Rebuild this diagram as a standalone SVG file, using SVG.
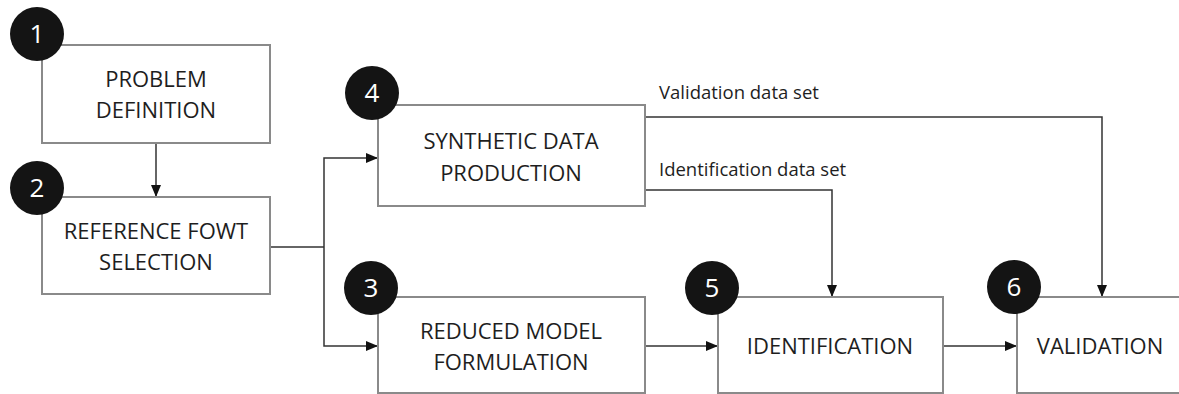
<svg xmlns="http://www.w3.org/2000/svg" width="1179" height="394" viewBox="0 0 1179 394">
<style>
.box{fill:#fff;stroke:#8a8a8a;stroke-width:2}
.badge{fill:#141414}
.num{font-family:"Open Sans","Liberation Sans",sans-serif;font-size:26px;fill:#fff;text-anchor:middle}
.lbl{font-family:"Open Sans","Liberation Sans",sans-serif;font-size:22px;fill:#1e1e1e;text-anchor:middle}
.edge{font-family:"Open Sans","Liberation Sans",sans-serif;font-size:18.5px;fill:#1e1e1e}
.con{fill:none;stroke:#333;stroke-width:1.5}
</style>
<defs>
<marker id="arr" viewBox="0 0 12 10" refX="12" refY="5" markerWidth="12" markerHeight="10" markerUnits="userSpaceOnUse" orient="auto">
<path d="M0,0 L12,5 L0,10 Z" fill="#111"/>
</marker>
</defs>
<rect width="1179" height="394" fill="#fff"/>
<g id="connectors">
<path class="con" d="M156,143 V197" marker-end="url(#arr)"/>
<path class="con" d="M270,247 H324"/>
<path class="con" d="M324,247 V158 H378" marker-end="url(#arr)"/>
<path class="con" d="M324,247 V346 H378" marker-end="url(#arr)"/>
<path class="con" d="M645,117 H1102 V297" marker-end="url(#arr)"/>
<path class="con" d="M645,190 H832 V297" marker-end="url(#arr)"/>
<path class="con" d="M645,346 H718" marker-end="url(#arr)"/>
<path class="con" d="M943,346 H1017" marker-end="url(#arr)"/>
<text class="edge" x="659" y="99">Validation data set</text>
<text class="edge" x="659" y="176">Identification data set</text>
</g>
<g id="node1">
<rect class="box" x="42" y="45" width="228" height="98"/>
<text class="lbl" x="156" y="87">PROBLEM</text>
<text class="lbl" x="156" y="118">DEFINITION</text>
<circle class="badge" cx="37" cy="34" r="27"/>
<text class="num" x="37" y="43">1</text>
</g>
<g id="node2">
<rect class="box" x="42" y="197" width="228" height="97"/>
<text class="lbl" x="156" y="239">REFERENCE FOWT</text>
<text class="lbl" x="156" y="270">SELECTION</text>
<circle class="badge" cx="37" cy="188" r="27"/>
<text class="num" x="37" y="197">2</text>
</g>
<g id="node4">
<rect class="box" x="378" y="105" width="267" height="101"/>
<text class="lbl" x="511" y="149">SYNTHETIC DATA</text>
<text class="lbl" x="511" y="181">PRODUCTION</text>
<circle class="badge" cx="372" cy="93" r="27"/>
<text class="num" x="372" y="102">4</text>
</g>
<g id="node3">
<rect class="box" x="378" y="297" width="267" height="96"/>
<text class="lbl" x="511" y="339">REDUCED MODEL</text>
<text class="lbl" x="511" y="370">FORMULATION</text>
<circle class="badge" cx="371" cy="288" r="27"/>
<text class="num" x="371" y="297">3</text>
</g>
<g id="node5">
<rect class="box" x="718" y="297" width="225" height="96"/>
<text class="lbl" x="830" y="354">IDENTIFICATION</text>
<circle class="badge" cx="712" cy="288" r="27"/>
<text class="num" x="712" y="297">5</text>
</g>
<g id="node6">
<rect class="box" x="1017" y="297" width="200" height="96"/>
<text class="lbl" x="1100" y="354">VALIDATION</text>
<circle class="badge" cx="1014" cy="287" r="27"/>
<text class="num" x="1014" y="296">6</text>
</g>
</svg>
